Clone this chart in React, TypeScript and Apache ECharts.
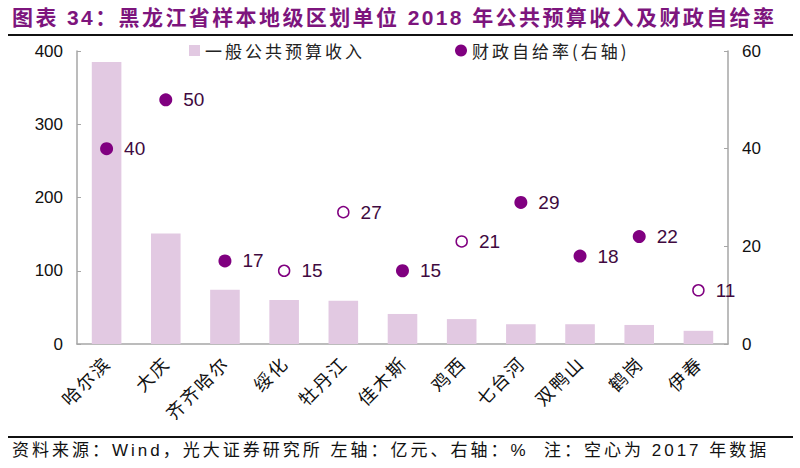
import React, { useEffect, useRef } from "react";
import * as echarts from "echarts";

const categories = ["哈尔滨", "大庆", "齐齐哈尔", "绥化", "牡丹江", "佳木斯", "鸡西", "七台河", "双鸭山", "鹤岗", "伊春"];
const revenue = [385, 151, 74, 60, 59, 41, 34, 27, 27, 26, 18];
const selfRate = [40, 50, 17, 15, 27, 15, 21, 29, 18, 22, 11];
const hollow = [false, false, false, true, true, false, true, false, false, false, true];

const title = "图表 34：黑龙江省样本地级区划单位 2018 年公共预算收入及财政自给率";
const footer = "资料来源：Wind，光大证券研究所 左轴：亿元、右轴：%  注：空心为 2017 年数据";
const legendBar = "一般公共预算收入";
const legendDot = "财政自给率(右轴)";

const PURPLE = "#800080";
const BAR = "#e2c9e2";
const AXIS = "#a6a6a6";

export default function App() {
  const ref = useRef<HTMLDivElement>(null);
  useEffect(() => {
    if (!ref.current) return;
    const el = ref.current;
    const chart = echarts.init(el, null, { renderer: "svg" });
    const numFont = "'Liberation Sans', Arial, sans-serif";
    const cjk = "'Noto Sans CJK SC', sans-serif";
    const mixed = "'Liberation Sans', 'Noto Sans CJK SC', sans-serif";
    chart.setOption({
      animation: false,
      backgroundColor: "#fff",
      grid: { left: 77, right: 72, top: 51, bottom: 124, containLabel: false },
      legend: [
        {
          left: 189,
          top: 42,
          padding: 0,
          itemWidth: 11,
          itemHeight: 11,
          selectedMode: false,
          textStyle: { fontFamily: cjk, fontSize: 17, color: "#222" },
          data: [{ name: legendBar, icon: "rect" }],
        },
        {
          left: 455,
          top: 42,
          padding: 0,
          itemWidth: 12,
          itemHeight: 12,
          itemGap: 2,
          selectedMode: false,
          textStyle: { fontFamily: cjk, fontSize: 17, color: "#222" },
          data: [{ name: legendDot, icon: "circle" }],
        },
      ],
      xAxis: {
        type: "category",
        data: categories,
        axisLine: { lineStyle: { color: AXIS, width: 1.5 } },
        axisTick: { show: false },
        axisLabel: { rotate: 45, fontFamily: cjk, fontSize: 18, color: "#111", margin: 15, interval: 0 },
      },
      yAxis: [
        {
          type: "value",
          min: 0,
          max: 400,
          interval: 100,
          axisLine: { show: true, lineStyle: { color: AXIS, width: 1.5 } },
          axisTick: { show: true, inside: true, length: 4, lineStyle: { color: AXIS } },
          splitLine: { show: false },
          axisLabel: { fontFamily: numFont, fontSize: 17, color: "#111", margin: 14 },
        },
        {
          type: "value",
          min: 0,
          max: 60,
          interval: 20,
          axisLine: { show: true, lineStyle: { color: AXIS, width: 1.5 } },
          axisTick: { show: true, inside: true, length: 4, lineStyle: { color: AXIS } },
          splitLine: { show: false },
          axisLabel: { fontFamily: numFont, fontSize: 17, color: "#111", margin: 14 },
        },
      ],
      series: [
        {
          name: legendBar,
          type: "bar",
          data: revenue,
          barWidth: "50%",
          itemStyle: { color: BAR },
        },
        {
          name: legendDot,
          type: "scatter",
          yAxisIndex: 1,
          symbolSize: 13,
          itemStyle: { color: PURPLE, opacity: 1 },
          data: selfRate.map((v, i) =>
            hollow[i]
              ? { value: v, symbolSize: 11, itemStyle: { color: "#fff", borderColor: PURPLE, borderWidth: 1.5, opacity: 1 } }
              : { value: v }
          ),
          label: {
            show: true,
            position: "right",
            distance: 11,
            fontFamily: numFont,
            fontSize: 19,
            color: "#400a40",
          },
        },
      ],
      graphic: [
        {
          type: "text",
          left: 12,
          top: 7,
          style: { text: title, fontFamily: mixed, fontWeight: "bold", fontSize: 21, fill: "#7d157d" },
        },
        {
          type: "line",
          shape: { x1: 8, y1: 35, x2: 793, y2: 35 },
          style: { stroke: "#111", lineWidth: 2 },
        },
        {
          type: "line",
          shape: { x1: 8, y1: 437, x2: 793, y2: 437 },
          style: { stroke: "#111", lineWidth: 2 },
        },
        {
          type: "text",
          left: 12,
          top: 442,
          style: { text: footer, fontFamily: mixed, fontSize: 17, fill: "#111" },
        },
      ],
    });
    const spacing: Record<string, number> = {
      [title]: 2.4,
      [footer]: 3,
      [legendBar]: 3,
      [legendDot]: 3,
    };
    categories.forEach((c) => (spacing[c] = 2));
    const apply = () => {
      el.querySelectorAll("text").forEach((t) => {
        const s = spacing[t.textContent || ""];
        if (s != null) t.setAttribute("letter-spacing", String(s));
      });
    };
    apply();
    chart.on("finished", apply);
    const raf = requestAnimationFrame(apply);
    const tm = setTimeout(apply, 30);
    return () => {
      cancelAnimationFrame(raf);
      clearTimeout(tm);
      chart.dispose();
    };
  }, []);
  return <div ref={ref} style={{ width: 800, height: 468, position: "absolute", left: 0, top: 0 }} />;
}
